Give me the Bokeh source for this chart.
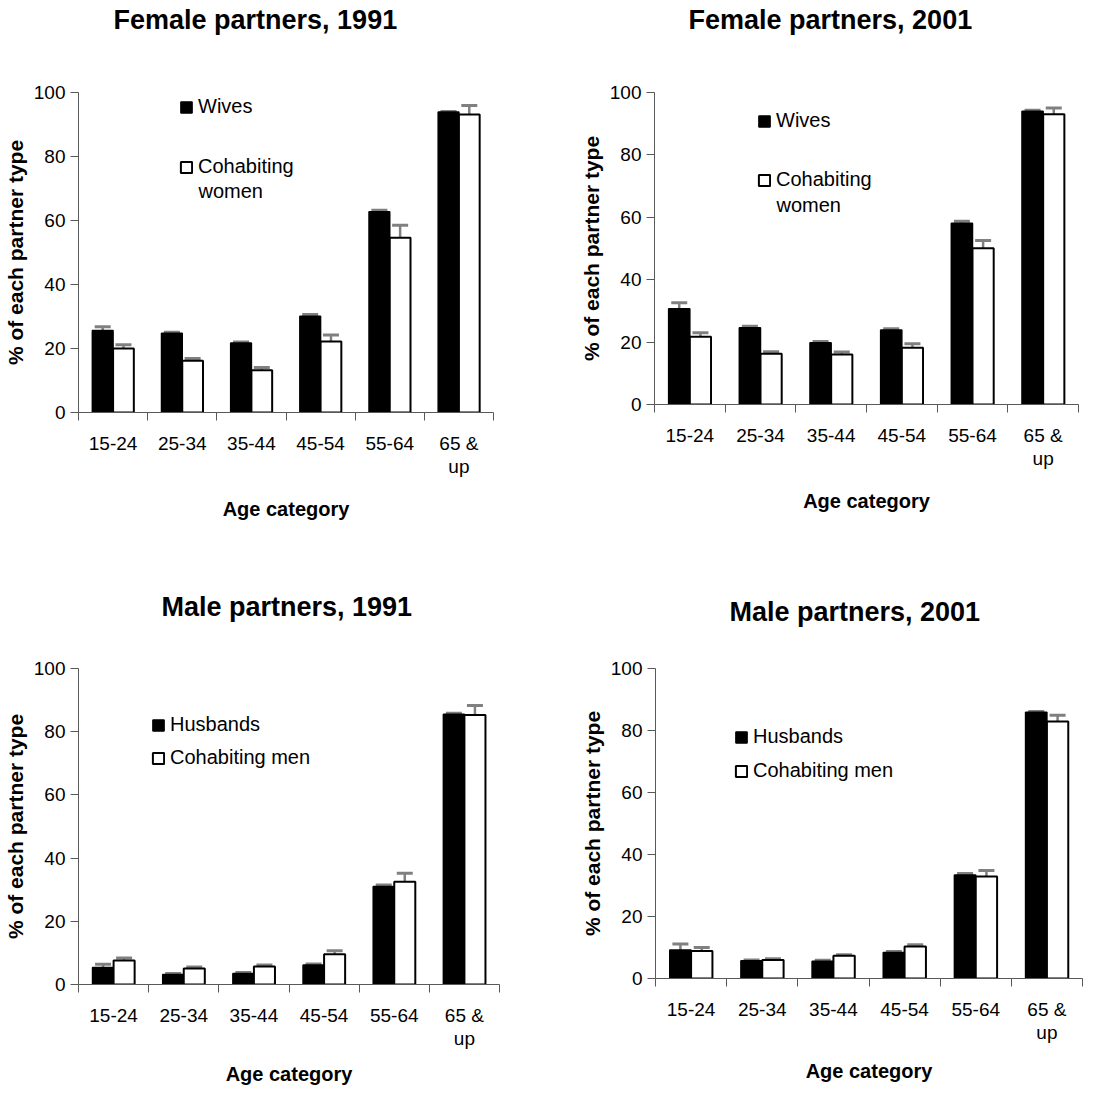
import numpy as np
from bokeh.plotting import figure
from bokeh.models import (ColumnDataSource, FixedTicker, Whisker, TeeHead,
                          Legend, LegendItem, Range1d, Label, Title)
from bokeh.layouts import column, row
from bokeh.embed import file_html
from bokeh.resources import INLINE

ages = ["15-24", "25-34", "35-44", "45-54", "55-64", "65 &\nup"]
y_ticks = [0, 20, 40, 60, 80, 100]

# Female partners, 1991
f91_wives = [25.6, 24.8, 21.7, 30.1, 62.7, 93.9]
f91_wives_err = [1.2, 0.3, 0.3, 0.5, 0.5, 0.2]
f91_cohab = [20.0, 16.2, 13.2, 22.2, 54.6, 93.1]
f91_cohab_err = [1.2, 0.7, 0.9, 2.0, 3.9, 2.8]

# Female partners, 2001
f01_wives = [30.7, 24.6, 19.8, 23.9, 58.1, 94.0]
f01_wives_err = [1.9, 0.5, 0.4, 0.4, 0.6, 0.3]
f01_cohab = [21.7, 16.3, 16.0, 18.2, 50.1, 93.0]
f01_cohab_err = [1.3, 0.6, 0.8, 1.3, 2.5, 2.0]

# Male partners, 1991
m91_husb = [5.4, 3.2, 3.5, 6.2, 31.0, 85.5]
m91_husb_err = [1.0, 0.3, 0.3, 0.3, 0.5, 0.3]
m91_cohab = [7.6, 5.1, 5.7, 9.6, 32.5, 85.3]
m91_cohab_err = [0.8, 0.4, 0.5, 1.1, 2.7, 3.0]

# Male partners, 2001
m01_husb = [9.2, 5.7, 5.6, 8.4, 33.4, 85.9]
m01_husb_err = [1.9, 0.3, 0.3, 0.3, 0.5, 0.2]
m01_cohab = [8.9, 6.0, 7.3, 10.3, 32.9, 82.9]
m01_cohab_err = [1.1, 0.4, 0.4, 0.6, 1.9, 2.0]

FONT = "Liberation Sans"
ERR = "#808080"
AXIS = "#595959"


def panel(title, names, extra, s1, e1, s2, e2, geo):
    (fw, fh, bl, br, bt, bb, t_off, t_gap, leg_loc, leg_sp, extra_xy,
     xl_stand) = geo
    p = figure(frame_width=fw, frame_height=fh, output_backend="svg",
               toolbar_location=None, title=None,
               x_range=Range1d(-0.5, len(ages) - 0.5), y_range=Range1d(0, 100),
               min_border_left=bl, min_border_right=br,
               min_border_top=bt, min_border_bottom=bb)
    p.outline_line_color = None
    p.grid.visible = False
    p.background_fill_color = "white"

    idx = np.arange(len(ages))
    bw = 0.3
    src1 = ColumnDataSource(dict(x=idx - bw / 2, top=s1,
                                 lo=np.array(s1) - np.array(e1),
                                 hi=np.array(s1) + np.array(e1)))
    src2 = ColumnDataSource(dict(x=idx + bw / 2, top=s2,
                                 lo=np.array(s2) - np.array(e2),
                                 hi=np.array(s2) + np.array(e2)))
    r1 = p.vbar(x="x", top="top", bottom=0, width=bw, source=src1,
                fill_color="black", line_color="black", line_width=1.5)
    r2 = p.vbar(x="x", top="top", bottom=0, width=bw, source=src2,
                fill_color="white", line_color="black", line_width=2)
    for src in (src1, src2):
        w = Whisker(base="x", upper="hi", lower="lo", source=src,
                    line_color=ERR, line_width=2.5,
                    upper_head=TeeHead(size=16, line_color=ERR, line_width=3),
                    lower_head=TeeHead(size=16, line_color=ERR, line_width=3))
        p.add_layout(w)

    # x axis: labels at category centres, ticks at category boundaries
    xa = p.xaxis[0]
    xa.ticker = FixedTicker(ticks=list(idx),
                            minor_ticks=list(np.arange(len(ages) + 1) - 0.5))
    xa.major_label_overrides = {int(i): a for i, a in zip(idx, ages)}
    xa.major_tick_line_color = None
    xa.major_tick_out = 8
    xa.minor_tick_out = 8
    xa.minor_tick_in = 0
    xa.minor_tick_line_color = AXIS
    xa.axis_line_color = AXIS
    xa.major_label_text_font = FONT
    xa.major_label_text_font_size = "19px"
    xa.major_label_text_line_height = 1.1
    xa.major_label_text_color = "black"
    xa.major_label_standoff = 12
    xa.axis_label = "Age category"
    xa.axis_label_text_font = FONT
    xa.axis_label_text_font_size = "20px"
    xa.axis_label_text_font_style = "bold"
    xa.axis_label_text_color = "black"
    xa.axis_label_standoff = xl_stand

    ya = p.yaxis[0]
    ya.ticker = FixedTicker(ticks=y_ticks)
    ya.minor_tick_line_color = None
    ya.major_tick_out = 8
    ya.major_tick_in = 0
    ya.major_tick_line_color = AXIS
    ya.axis_line_color = AXIS
    ya.major_label_text_font = FONT
    ya.major_label_text_font_size = "19px"
    ya.major_label_text_color = "black"
    ya.major_label_standoff = 5
    ya.axis_label = "% of each partner type"
    ya.axis_label_text_font = FONT
    ya.axis_label_text_font_size = "21px"
    ya.axis_label_text_font_style = "bold"
    ya.axis_label_text_color = "black"
    ya.axis_label_standoff = 4

    # spacer between frame and title (first "above" panel is nearest the frame)
    p.add_layout(Title(text=" ", text_font_size="1px", standoff=t_gap),
                 "above")
    p.add_layout(Title(text=title, align="left", offset=t_off, standoff=0,
                       text_font=FONT, text_font_size="27px",
                       text_font_style="bold", text_color="black"),
                 "above")

    leg = Legend(items=[LegendItem(label=names[0], renderers=[r1]),
                        LegendItem(label=names[1], renderers=[r2])],
                 location=leg_loc, spacing=leg_sp, padding=0, margin=0,
                 border_line_color=None, background_fill_alpha=0,
                 glyph_width=14, glyph_height=14, label_standoff=5,
                 label_text_font=FONT, label_text_font_size="20px",
                 label_text_color="black", label_height=20)
    p.add_layout(leg)
    if extra:
        p.add_layout(Label(x=extra_xy[0], y=extra_xy[1], x_units="screen",
                           y_units="screen", text=extra, text_font=FONT,
                           text_font_size="20px", text_color="black",
                           text_align="left", text_baseline="middle"))
    return p


p1 = panel("Female partners, 1991", ["Wives", "Cohabiting"], "women",
           f91_wives, f91_wives_err, f91_cohab, f91_cohab_err,
           (415, 320, 70, 63, 92, 124, 35, 55, (101, 234), 37,
            (120, 222), 18))
p2 = panel("Female partners, 2001", ["Wives", "Cohabiting"], "women",
           f01_wives, f01_wives_err, f01_cohab, f01_cohab_err,
           (424, 312, 98, 26, 92, 132, 34, 55, (103, 213), 36,
            (122, 200), 18))
p3 = panel("Male partners, 1991", ["Husbands", "Cohabiting men"], None,
           m91_husb, m91_husb_err, m91_cohab, m91_cohab_err,
           (421, 316, 71, 56, 132, 102, 83, 44, (73, 215), 10,
            None, 11))
p4 = panel("Male partners, 2001", ["Husbands", "Cohabiting men"], None,
           m01_husb, m01_husb_err, m01_cohab, m01_cohab_err,
           (427, 310, 100, 21, 132, 108, 74, 39, (79, 196), 11,
            None, 14))

layout = column(row(p1, p2), row(p3, p4))
open("out.html", "w").write(file_html(layout, INLINE))
